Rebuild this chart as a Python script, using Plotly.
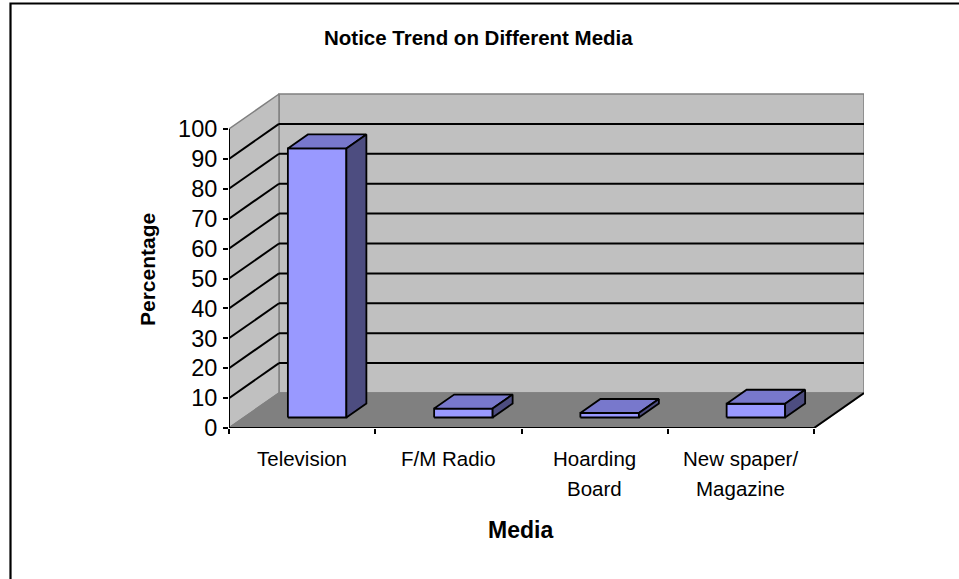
import plotly.graph_objects as go

# ---- data ----
categories = ["Television", "F/M Radio", "Hoarding<br>Board", "New spaper/<br>Magazine"]
percentages = [90, 3, 1.5, 4.6]
y_ticks = [0, 10, 20, 30, 40, 50, 60, 70, 80, 90, 100]

title_text = "Notice Trend on Different Media"
x_title = "Media"
y_title = "Percentage"

# ---- geometry of the pseudo-3D box (in pixels) ----
W, H_FIG = 959, 579
PLOT_L, PLOT_R, PLOT_T, PLOT_B = 229, 864, 93, 428
CAT_PX = 146.25          # width of one category slot
UNIT_PX = 2.99           # pixels per percentage point
DEPTH_PX = (50, 35)      # oblique offset of the back wall

n = len(categories)
DX = DEPTH_PX[0] / CAT_PX        # depth offset in x data units
DY = DEPTH_PX[1] / UNIT_PX       # depth offset in y data units
x_lo = -0.5
x_hi = x_lo + (PLOT_R - PLOT_L) / CAT_PX
y_hi = (PLOT_B - PLOT_T) / UNIT_PX
ymax = y_ticks[-1]
x_end = n - 0.5

BAR_HALF = 0.2           # gap width 150%
FRONT, BACK = 0.3, 0.7   # bar depth span as fraction of box depth

WALL = "#C0C0C0"
FLOOR = "#808080"
EDGE = "#808080"
FACE = "#9999FF"
TOP = "#7878CC"
SIDE = "#4D4D80"

fig = go.Figure()


def poly(xs, ys, fill, line_color, line_width):
    fig.add_trace(go.Scatter(
        x=list(xs) + [xs[0]], y=list(ys) + [ys[0]],
        mode="lines", fill="toself", fillcolor=fill,
        line=dict(color=line_color, width=line_width),
        hoverinfo="skip", showlegend=False))


def segs(pairs, color, width):
    xs, ys = [], []
    for (xa, ya), (xb, yb) in pairs:
        xs += [xa, xb, None]
        ys += [ya, yb, None]
    fig.add_trace(go.Scatter(x=xs, y=ys, mode="lines",
                             line=dict(color=color, width=width),
                             hoverinfo="skip", showlegend=False))


# walls and floor
poly([x_lo + DX, x_end + DX, x_end + DX, x_lo + DX],
     [DY, DY, ymax + DY, ymax + DY], WALL, EDGE, 1.5)
poly([x_lo, x_lo + DX, x_lo + DX, x_lo],
     [0, DY, ymax + DY, ymax], WALL, EDGE, 1.5)
poly([x_lo, x_end, x_end + DX, x_lo + DX],
     [0, 0, DY, DY], FLOOR, EDGE, 1.5)

# gridlines across the side wall and the back wall
grid = []
for v in y_ticks[1:-1]:
    grid.append(((x_lo, v), (x_lo + DX, v + DY)))
    grid.append(((x_lo + DX, v + DY), (x_end + DX, v + DY)))
segs(grid, "black", 2)

# axis lines
segs([((x_lo, 0), (x_end, 0)),
      ((x_end, 0), (x_end + DX, DY)),
      ((x_lo, 0), (x_lo, ymax))], "black", 2)

# 3D columns
for i, v in enumerate(percentages):
    x0, x1 = i - BAR_HALF, i + BAR_HALF
    fx, fy = FRONT * DX, FRONT * DY
    bx, by = BACK * DX, BACK * DY
    poly([x0 + fx, x1 + fx, x1 + fx, x0 + fx],
         [fy, fy, v + fy, v + fy], FACE, "black", 1.8)
    poly([x0 + fx, x1 + fx, x1 + bx, x0 + bx],
         [v + fy, v + fy, v + by, v + by], TOP, "black", 1.8)
    poly([x1 + fx, x1 + bx, x1 + bx, x1 + fx],
         [fy, by, v + by, v + fy], SIDE, "black", 1.8)

FONT = "Liberation Sans, Arial, sans-serif"

# category labels, one annotation per line
annotations = []
for i, lab in enumerate(categories):
    for k, line in enumerate(lab.split("<br>")):
        annotations.append(dict(
            x=i, xref="x", y=0, yref="paper", text=line, showarrow=False,
            yanchor="middle", yshift=-30 - 30 * k,
            font=dict(family=FONT, size=20.5, color="black")))

annotations.append(dict(
    x=(520 - PLOT_L) / (PLOT_R - PLOT_L), xref="paper",
    y=(PLOT_B - 530) / (PLOT_B - PLOT_T), yref="paper",
    text=f"<b>{x_title}</b>", showarrow=False, xanchor="center", yanchor="middle",
    font=dict(family=FONT, size=23, color="black")))
annotations.append(dict(
    x=(147 - PLOT_L) / (PLOT_R - PLOT_L), xref="paper",
    y=(PLOT_B - 270) / (PLOT_B - PLOT_T), yref="paper",
    text=f"<b>{y_title}</b>", showarrow=False, textangle=-90,
    xanchor="center", yanchor="middle",
    font=dict(family=FONT, size=21, color="black")))
annotations.append(dict(
    x=(478 - PLOT_L) / (PLOT_R - PLOT_L), xref="paper",
    y=(PLOT_B - 38) / (PLOT_B - PLOT_T), yref="paper",
    text=f"<b>{title_text}</b>", showarrow=False, xanchor="center", yanchor="middle",
    font=dict(family=FONT, size=20.5, color="black")))

fig.update_layout(
    width=W, height=H_FIG,
    margin=dict(l=PLOT_L, r=W - PLOT_R, t=PLOT_T, b=H_FIG - PLOT_B, pad=0),
    paper_bgcolor="white", plot_bgcolor="rgba(0,0,0,0)",
    showlegend=False,
    annotations=annotations,
    xaxis=dict(range=[x_lo, x_hi], showgrid=False, zeroline=False, showline=False,
               tickmode="array", tickvals=[k - 0.5 for k in range(n + 1)],
               ticktext=[""] * (n + 1), ticks="outside", ticklen=5,
               tickwidth=2, tickcolor="black", fixedrange=True),
    yaxis=dict(range=[0, y_hi], showgrid=False, zeroline=False, showline=False,
               tickmode="array", tickvals=y_ticks, ticks="outside", ticklen=5,
               tickwidth=2, tickcolor="black", ticklabelstandoff=1,
               tickfont=dict(family=FONT, size=23.5, color="black"), fixedrange=True),
    shapes=[dict(type="rect", xref="paper", yref="paper",
                 x0=(10.5 - PLOT_L) / (PLOT_R - PLOT_L),
                 x1=(W + 20 - PLOT_L) / (PLOT_R - PLOT_L),
                 y0=(PLOT_B - (H_FIG + 20)) / (PLOT_B - PLOT_T),
                 y1=(PLOT_B - 3.5) / (PLOT_B - PLOT_T),
                 line=dict(color="black", width=2.2), layer="above")],
)

fig.write_html("out.html")
